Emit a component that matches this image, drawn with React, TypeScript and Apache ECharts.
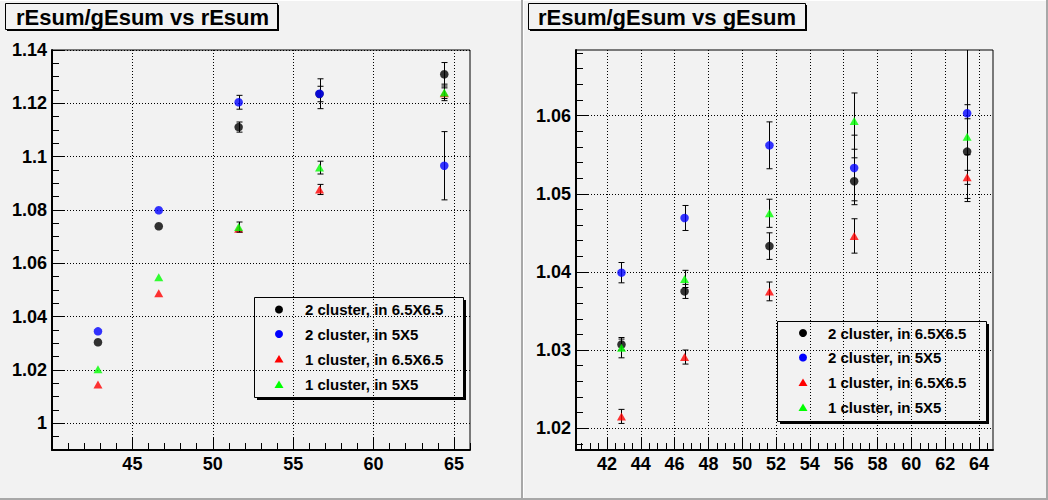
import React, { useEffect, useRef } from "react";
import * as echarts from "echarts";

// ---------- data ----------
const seriesNames = [
  "2 cluster, in 6.5X6.5",
  "2 cluster, in 5X5",
  "1 cluster, in 6.5X6.5",
  "1 cluster, in 5X5",
];
const seriesColors = ["#000000", "#0000ff", "#ff0000", "#00ff00"];
const seriesSymbols = ["circle", "circle", "triangle", "triangle"];

// left panel: rEsum/gEsum vs rEsum
const rEsum = [42.86, 46.64, 51.61, 56.64, 64.4];
const leftBlack = [1.0304, 1.0739, 1.1111, 1.1235, 1.1309];
const leftBlackErr = [0.0005, 0.0005, 0.0019, 0.0029, 0.0044];
const leftBlue = [1.0345, 1.0799, 1.1204, 1.1236, 1.0966];
const leftBlueErr = [0.0005, 0.0005, 0.0026, 0.0056, 0.0128];
const leftRed = [1.0146, 1.0488, 1.073, 1.0877, 1.1238];
const leftRedErr = [0.0004, 0.0005, 0.0012, 0.0019, 0.002];
const leftGreen = [1.0203, 1.0548, 1.0736, 1.0959, 1.1241];
const leftGreenErr = [0.0004, 0.0005, 0.0019, 0.0024, 0.0031];

// right panel: rEsum/gEsum vs gEsum
const gEsum = [42.86, 46.59, 51.61, 56.62, 63.3];
const rightBlack = [1.0307, 1.0375, 1.0433, 1.0516, 1.0554];
const rightBlackErr = [0.0007, 0.0009, 0.0017, 0.003, 0.006];
const rightBlue = [1.0399, 1.0469, 1.0562, 1.0533, 1.0603];
const rightBlueErr = [0.0013, 0.0016, 0.003, 0.0042, 0.0113];
const rightRed = [1.0215, 1.0291, 1.0375, 1.0446, 1.0521];
const rightRedErr = [0.0009, 0.0009, 0.0012, 0.0022, 0.0009];
const rightGreen = [1.0303, 1.0391, 1.0475, 1.0593, 1.0573];
const rightGreenErr = [0.0013, 0.0011, 0.0018, 0.0036, 0.0023];

// tick labels
const xTicksL = [45, 50, 55, 60, 65];
const yTicksL = [1, 1.02, 1.04, 1.06, 1.08, 1.1, 1.12, 1.14];
const xTicksR = [42, 44, 46, 48, 50, 52, 54, 56, 58, 60, 62, 64];
const yTicksR = [1.02, 1.03, 1.04, 1.05, 1.06];

const titles = ["rEsum/gEsum vs rEsum", "rEsum/gEsum vs gEsum"];

// ---------- helpers ----------
const FONT = "Liberation Sans, Arial, Helvetica, sans-serif";
const BG = "#f2f2f2";

function minorList(start: number, end: number, step: number, majorStep: number) {
  const out: number[] = [];
  const n = Math.round((end - start) / step);
  for (let i = 0; i <= n; i++) {
    const v = +(start + i * step).toFixed(6);
    const r = v / majorStep;
    if (Math.abs(r - Math.round(r)) > 1e-6) out.push(v);
  }
  return out;
}

function mainX(gridIndex: number, min: number, max: number, ticks: number[], extra: any) {
  return {
    type: "value",
    gridIndex,
    position: "bottom",
    min,
    max,
    ...extra,
    axisLine: { show: true, onZero: false, lineStyle: { color: "#000", width: 2 } },
    axisTick: { show: true, inside: true, length: 13, customValues: ticks, lineStyle: { color: "#000", width: 1 } },
    axisLabel: {
      show: true,
      customValues: ticks,
      margin: 5,
      color: "#000",
      fontSize: 18,
      fontWeight: "bold",
      fontFamily: FONT,
    },
    splitLine: { show: true, lineStyle: { color: "#000", width: 1, type: [1, 2] } },
    minorTick: { show: false },
  };
}

function mainY(gridIndex: number, min: number, max: number, ticks: number[], extra: any) {
  return {
    type: "value",
    gridIndex,
    position: "left",
    min,
    max,
    ...extra,
    axisLine: { show: true, onZero: false, lineStyle: { color: "#000", width: 2 } },
    axisTick: { show: true, inside: true, length: 13, customValues: ticks, lineStyle: { color: "#000", width: 1 } },
    axisLabel: {
      show: true,
      customValues: ticks,
      margin: 5,
      color: "#000",
      fontSize: 18,
      fontWeight: "bold",
      fontFamily: FONT,
    },
    splitLine: { show: true, lineStyle: { color: "#000", width: 1, type: [1, 2] } },
    minorTick: { show: false },
  };
}

function minorAxis(gridIndex: number, min: number, max: number, ticks: number[], position: string) {
  return {
    type: "value",
    gridIndex,
    position,
    min,
    max,
    axisLine: { show: false, onZero: false },
    axisTick: { show: true, inside: true, length: 7, customValues: ticks, lineStyle: { color: "#000", width: 1 } },
    axisLabel: { show: false },
    splitLine: { show: false },
  };
}

function errRender(params: any, api: any) {
  const x = api.value(0);
  const y = api.value(1);
  const e = api.value(2);
  const cs = params.coordSys;
  const top = api.coord([x, y + e]);
  const bot = api.coord([x, y - e]);
  const center = api.coord([x, y]);
  // like ROOT: error smaller than the marker is not drawn
  if (center[1] - top[1] < 4) return { type: "group", children: [] };
  const px = Math.round(top[0]) + 0.5;
  const yTop = Math.max(top[1], cs.y);
  const yBot = Math.min(bot[1], cs.y + cs.height);
  const st = { stroke: "#000", lineWidth: 1 };
  const children: any[] = [
    { type: "line", shape: { x1: px, y1: yTop, x2: px, y2: yBot }, style: st },
  ];
  if (top[1] >= cs.y) children.push({ type: "line", shape: { x1: px - 3, y1: top[1], x2: px + 3, y2: top[1] }, style: st });
  if (bot[1] <= cs.y + cs.height) children.push({ type: "line", shape: { x1: px - 3, y1: bot[1], x2: px + 3, y2: bot[1] }, style: st });
  return { type: "group", children };
}

function panelSeries(axisIdx: number, xs: number[], vals: number[][], errs: number[][]) {
  const out: any[] = [];
  vals.forEach((v, k) => {
    out.push({
      type: "custom",
      name: seriesNames[k] + " err",
      xAxisIndex: axisIdx,
      yAxisIndex: axisIdx,
      z: 3 + k * 2,
      renderItem: errRender,
      encode: { x: 0, y: 1 },
      data: xs.map((x, i) => [x, v[i], errs[k][i]]),
      silent: true,
    });
    out.push({
      type: "scatter",
      name: seriesNames[k],
      xAxisIndex: axisIdx,
      yAxisIndex: axisIdx,
      z: 4 + k * 2,
      symbol: seriesSymbols[k],
      symbolSize: seriesSymbols[k] === "circle" ? 8.5 : [9, 8],
      itemStyle: { color: seriesColors[k] },
      data: xs.map((x, i) => [x, v[i]]),
      silent: true,
    });
  });
  return out;
}

function legendGraphic(x: number, y: number, w: number, h: number, markX: number, textX: number, rows: number[]) {
  const children: any[] = [
    { type: "rect", shape: { x: x + 3, y: y + 3, width: w, height: h }, style: { fill: "#000" } },
    { type: "rect", shape: { x: x + 0.5, y: y + 0.5, width: w, height: h }, style: { fill: BG, stroke: "#000", lineWidth: 1 } },
  ];
  rows.forEach((ry, k) => {
    if (seriesSymbols[k] === "circle") {
      children.push({ type: "circle", shape: { cx: markX, cy: ry, r: 4 }, style: { fill: seriesColors[k] } });
    } else {
      children.push({
        type: "polygon",
        shape: { points: [[markX, ry - 4], [markX + 4.5, ry + 3.5], [markX - 4.5, ry + 3.5]] },
        style: { fill: seriesColors[k] },
      });
    }
    children.push({
      type: "text",
      x: textX,
      y: ry,
      style: {
        text: seriesNames[k],
        fill: "#000",
        font: `bold 15px ${FONT}`,
        textVerticalAlign: "middle",
        verticalAlign: "middle",
      },
    });
  });
  return { type: "group", children, z: 100 };
}

function titleGraphic(x: number, y: number, w: number, h: number, textX: number, text: string) {
  return {
    type: "group",
    z: 100,
    children: [
      { type: "rect", shape: { x: x + 2, y: y + 2, width: w, height: h }, style: { fill: "#000" } },
      { type: "rect", shape: { x: x + 0.5, y: y + 0.5, width: w, height: h }, style: { fill: BG, stroke: "#000", lineWidth: 1 } },
      {
        type: "text",
        x: textX,
        y: y + h / 2 + 1,
        style: { text, fill: "#000", font: `bold 22px ${FONT}`, verticalAlign: "middle", textVerticalAlign: "middle" },
      },
    ],
  };
}

export default function App() {
  const ref = useRef<HTMLDivElement>(null);
  useEffect(() => {
    if (!ref.current) return;
    const chart = echarts.init(ref.current, null, { renderer: "svg" });

    const minorXL = minorList(41, 66, 1, 5);
    const minorYL = minorList(0.995, 1.14, 0.005, 0.02);
    const minorXR = minorList(40.5, 64.5, 0.5, 2);
    const minorYR = minorList(1.018, 1.068, 0.002, 0.01);

    const option: any = {
      animation: false,
      backgroundColor: BG,
      grid: [
        { left: 52, top: 50, width: 418, height: 400, show: true, borderColor: "#000", borderWidth: 1, backgroundColor: "transparent", containLabel: false, outerBoundsMode: "none" },
        { left: 576, top: 50, width: 417, height: 400, show: true, borderColor: "#000", borderWidth: 1, backgroundColor: "transparent", containLabel: false, outerBoundsMode: "none" },
      ],
      xAxis: [
        mainX(0, 40, 66, xTicksL, { interval: 5 }),
        mainX(1, 40.17, 64.83, xTicksR, { splitNumber: 12 }),
        minorAxis(0, 40, 66, minorXL, "bottom"),
        minorAxis(1, 40.17, 64.83, minorXR, "bottom"),
      ],
      yAxis: [
        mainY(0, 0.99, 1.14, yTicksL, { splitNumber: 8 }),
        mainY(1, 1.0172, 1.0684, yTicksR, { splitNumber: 5 }),
        minorAxis(0, 0.99, 1.14, minorYL, "left"),
        minorAxis(1, 1.0172, 1.0684, minorYR, "left"),
      ],
      series: [
        ...panelSeries(0, rEsum, [leftBlack, leftBlue, leftRed, leftGreen], [leftBlackErr, leftBlueErr, leftRedErr, leftGreenErr]),
        ...panelSeries(1, gEsum, [rightBlack, rightBlue, rightRed, rightGreen], [rightBlackErr, rightBlueErr, rightRedErr, rightGreenErr]),
      ],
      graphic: [
        // pad bevels
        { type: "rect", z: -10, shape: { x: 0, y: 0, width: 1048, height: 1 }, style: { fill: "#ffffff" } },
        { type: "rect", z: -10, shape: { x: 521, y: 0, width: 2, height: 500 }, style: { fill: "#a8a8a8" } },
        { type: "rect", z: -10, shape: { x: 523, y: 0, width: 1, height: 500 }, style: { fill: "#ffffff" } },
        { type: "rect", z: -10, shape: { x: 1046, y: 0, width: 2, height: 500 }, style: { fill: "#a8a8a8" } },
        { type: "rect", z: -10, shape: { x: 0, y: 498, width: 1048, height: 2 }, style: { fill: "#a8a8a8" } },
        titleGraphic(5, 3, 272, 26, 16, titles[0]),
        titleGraphic(528, 3, 277, 26, 538, titles[1]),
        legendGraphic(254, 297, 209, 100, 279, 305, [309.5, 334, 359, 384.5]),
        legendGraphic(777, 321, 209, 100, 803, 828, [333, 357.5, 382.5, 407.5]),
      ],
    };
    chart.setOption(option);
    return () => chart.dispose();
  }, []);
  return <div ref={ref} style={{ position: "fixed", left: 0, top: 0, width: 1048, height: 500 }} />;
}
